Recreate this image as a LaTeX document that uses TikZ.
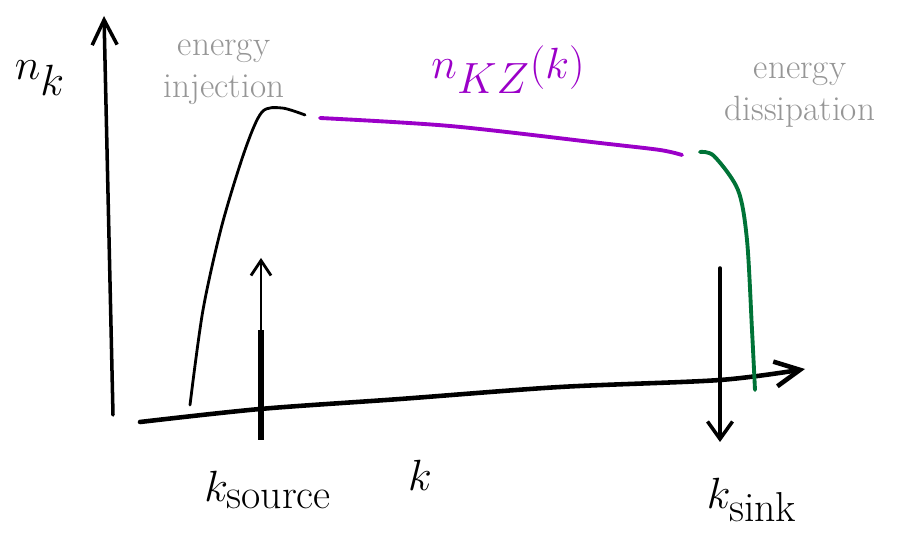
\documentclass[tikz,border=0pt]{standalone}
\usepackage{amsmath}
\usetikzlibrary{arrows.meta}
\definecolor{kzpurple}{RGB}{155,0,200}
\definecolor{sinkgreen}{RGB}{0,115,55}
\definecolor{notegray}{RGB}{150,150,150}
\tikzset{
  note/.style={text=notegray, font=\fontsize{20}{24}\selectfont, align=center},
  biglabel/.style={font=\fontsize{34}{40}\selectfont},
  axisline/.style={line width=2.6pt, line cap=round},
}
\begin{document}
\begin{tikzpicture}[x=0.02cm, y=-0.02cm, line join=round]
    \useasboundingbox (0,0) rectangle (910,536);

    % Ejes
    \coordinate (yfoot) at (113,415);
    \coordinate (ytip) at (104,16);
    \coordinate (xtip) at (805,369);
    \draw[axisline, line width=2pt, -{Straight Barb[length=5mm, width=5mm]}] (yfoot) -- (ytip);
    \draw[axisline, -{Straight Barb[length=5mm, width=5mm]}]
        plot[smooth] coordinates {(140,422) (260,409) (400,399) (560,387) (720,380) (805,369)};
    \node[biglabel] (nk) at (40,78) {$n_k$};

    % Subida de la inyeccion
    \draw[line width=1.6pt, line cap=round]
        plot[smooth] coordinates {(190,405) (203,310) (222,225) (245,150) (262,112) (282,108) (305,115)};
    \node[note] (injection) at (224,72) {energy\\injection};

    % Espectro de Kolmogorov-Zakharov
    \draw[kzpurple, line width=2.2pt, line cap=round]
        plot[smooth] coordinates {(320,118) (450,126) (600,143) (660,150) (682,155)};
    \node[biglabel, text=kzpurple] (nkz) at (508,70) {$n_{KZ}(k)$};

    % Disipacion
    \draw[sinkgreen, line width=2.2pt, line cap=round]
        plot[smooth] coordinates {(700,152) (714,156) (738,190) (747,240) (752,330) (755,390)};
    \node[note] (dissipation) at (800,95) {energy\\dissipation};

    % Fuente y sumidero
    \coordinate (srcfoot) at (261,440);
    \coordinate (srcmid) at (261,330);
    \coordinate (srctip) at (261,258);
    \draw[line width=3pt] (srcfoot) -- (srcmid);
    \draw[line width=1.6pt, -{Straight Barb[length=3mm, width=4mm]}] (srcmid) -- (srctip);
    \coordinate (sinktop) at (720,268);
    \coordinate (sinktip) at (720,442);
    \draw[line width=2pt, line cap=round, -{Straight Barb[length=3.5mm, width=5mm]}] (sinktop) -- (sinktip);

    \node[biglabel] (ksource) at (268,490) {$k_{\text{source}}$};
    \node[biglabel] (klabel) at (420,475) {$k$};
    \node[biglabel] (ksink) at (752,500) {$k_{\text{sink}}$};
\end{tikzpicture}
\end{document}
